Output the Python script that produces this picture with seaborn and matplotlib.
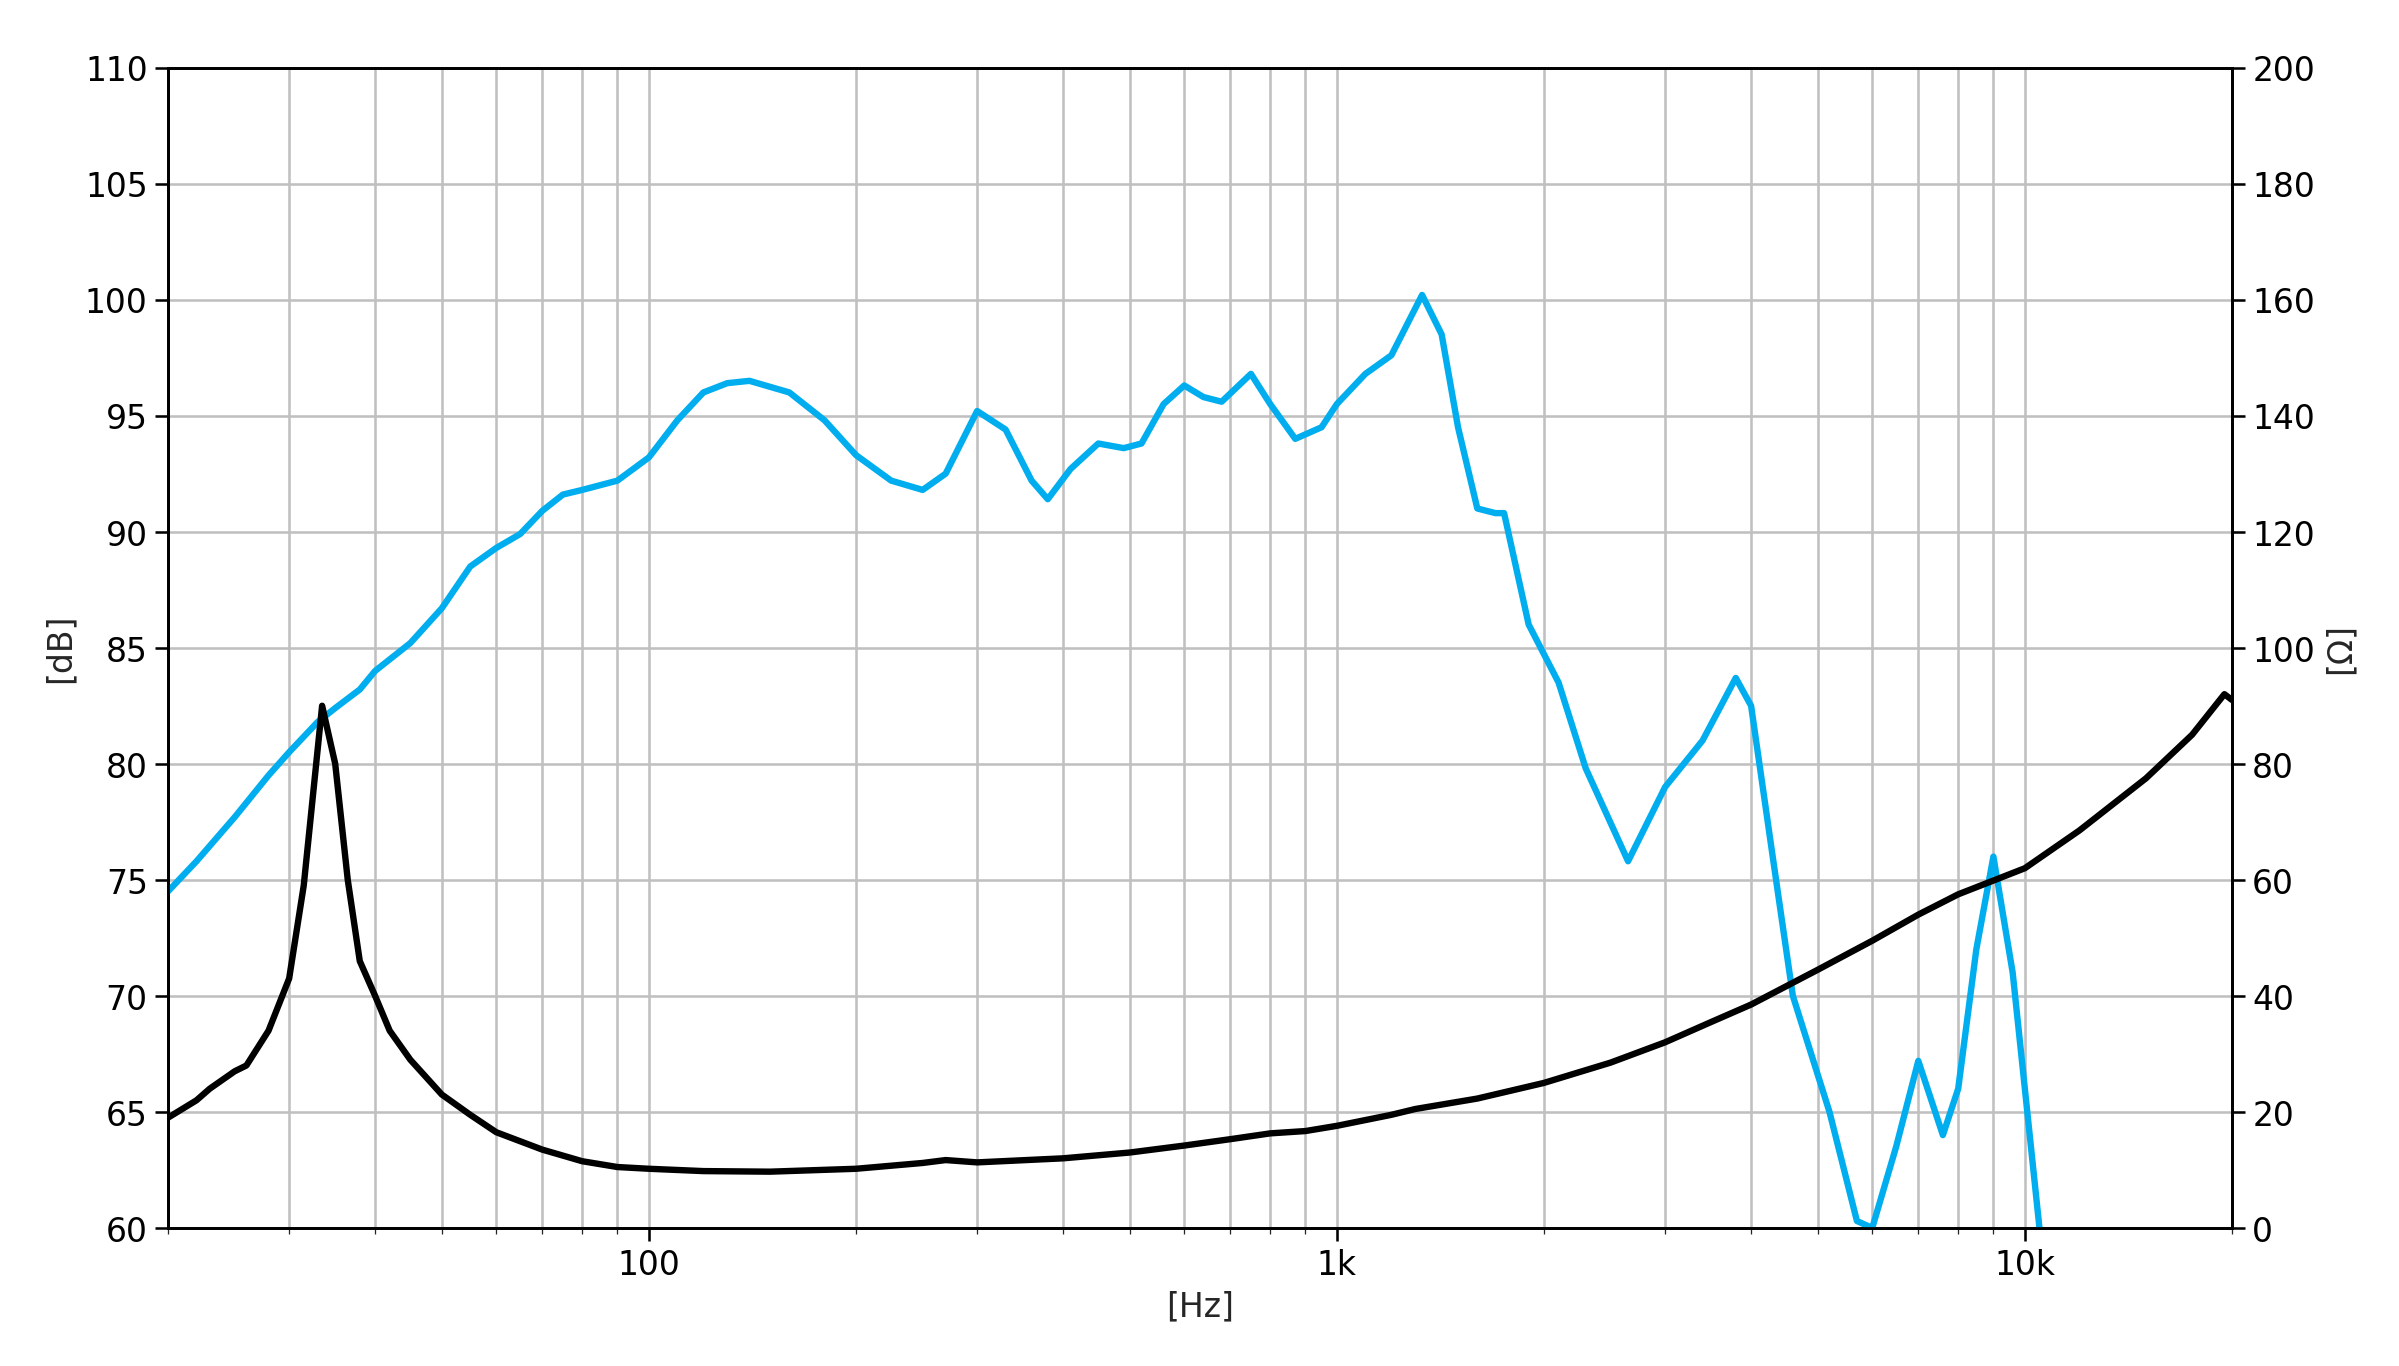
import numpy as np
import matplotlib
matplotlib.use("Agg")
import matplotlib.pyplot as plt
import seaborn as sns
from matplotlib.ticker import FixedLocator, FixedFormatter, LogLocator, NullFormatter

spl_freq = [20, 22, 25, 28, 30, 33, 35, 38, 40, 45, 50, 55, 60, 65, 70, 75, 80, 90, 100, 110, 120, 130, 140, 160, 180, 200, 225, 250, 270, 300, 330, 360, 380, 410, 450, 490, 520, 560, 600, 640, 680, 750, 800, 870, 950, 1000, 1100, 1200, 1330, 1420, 1500, 1600, 1700, 1750, 1900, 2100, 2300, 2650, 3000, 3400, 3800, 4000, 4300, 4600, 5200, 5700, 6000, 6500, 7000, 7600, 8000, 8500, 9000, 9600, 10500, 11000]
spl_db = [74.5, 75.8, 77.7, 79.5, 80.5, 81.8, 82.4, 83.2, 84.0, 85.2, 86.7, 88.5, 89.3, 89.9, 90.9, 91.6, 91.8, 92.2, 93.2, 94.8, 96.0, 96.4, 96.5, 96.0, 94.8, 93.3, 92.2, 91.8, 92.5, 95.2, 94.4, 92.2, 91.4, 92.7, 93.8, 93.6, 93.8, 95.5, 96.3, 95.8, 95.6, 96.8, 95.5, 94.0, 94.5, 95.5, 96.8, 97.6, 100.2, 98.5, 94.5, 91.0, 90.8, 90.8, 86.0, 83.5, 79.8, 75.8, 79.0, 81.0, 83.7, 82.5, 76.0, 70.0, 65.0, 60.3, 60.0, 63.5, 67.2, 64.0, 66.0, 72.0, 76.0, 71.0, 60.0, 55.0]

imp_freq = [20, 22, 23, 25, 26, 28, 30, 31.5, 33.5, 35, 36.5, 38, 40, 42, 45, 50, 55, 60, 70, 80, 90, 100, 120, 150, 200, 250, 270, 300, 400, 500, 600, 700, 800, 900, 1000, 1200, 1300, 1600, 2000, 2500, 3000, 3500, 4000, 5000, 6000, 7000, 8000, 10000, 12000, 15000, 17500, 19500, 20000]
imp_ohm = [19, 22, 24, 27, 28, 34, 43, 59, 90, 80, 60, 46, 40, 34, 29, 23, 19.5, 16.5, 13.5, 11.5, 10.5, 10.2, 9.8, 9.7, 10.2, 11.2, 11.7, 11.3, 12.0, 13.0, 14.2, 15.3, 16.3, 16.7, 17.6, 19.5, 20.5, 22.3, 25.0, 28.5, 32.0, 35.5, 38.5, 44.5, 49.5, 54.0, 57.5, 62.0, 68.5, 77.5, 85.0, 92.0, 91.0]

x_ticks = [100, 1000, 10000]
x_ticklabels = ["100", "1k", "10k"]

sns.set_style("ticks")
plt.rcParams['font.family'] = ['DejaVu Sans']

fig = plt.figure(figsize=(15.68, 8.93), dpi=153.06)
ax = fig.add_axes([0.070, 0.101, 0.860, 0.849])
ax2 = ax.twinx()

sns.lineplot(x=spl_freq, y=spl_db, ax=ax, color="#00aeef", lw=3, zorder=3)
sns.lineplot(x=imp_freq, y=imp_ohm, ax=ax2, color="black", lw=3, zorder=3)

ax.set_xscale("log")
ax.set_xlim(20, 20000)
ax.set_ylim(60, 110)
ax.set_yticks(np.arange(60, 111, 5))
ax2.set_ylim(0, 200)
ax2.set_yticks(np.arange(0, 201, 20))
ax.xaxis.set_major_locator(FixedLocator(x_ticks))
ax.xaxis.set_major_formatter(FixedFormatter(x_ticklabels))
ax.xaxis.set_minor_locator(LogLocator(base=10, subs=np.arange(2, 10)))
ax.xaxis.set_minor_formatter(NullFormatter())
ax.grid(True, which="both", axis="x", color="#c0c0c0", lw=1.2)
ax.grid(True, which="major", axis="y", color="#c0c0c0", lw=1.2)
ax.set_axisbelow(True)
for a in (ax, ax2):
    a.tick_params(labelsize=15.5, width=1.2, length=6, colors="black")
    for s in a.spines.values():
        s.set_linewidth(1.3)
        s.set_visible(True)
        s.set_color("black")
ax.tick_params(axis="x", which="minor", length=3)
ax.set_xlabel("[Hz]", fontsize=15.5)
ax.set_ylabel("[dB]", fontsize=15.5)
ax2.set_ylabel("[Ω]", fontsize=15.5)
fig.savefig("out.png", dpi=153.06)
